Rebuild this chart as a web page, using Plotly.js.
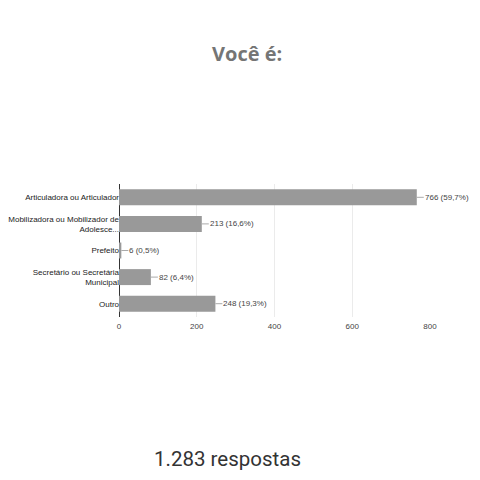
<!DOCTYPE html>
<html>
<head>
<meta charset="utf-8">
<script src="https://cdn.plot.ly/plotly-3.0.1.min.js"></script>
<style>html,body{margin:0;padding:0;background:#fff;}#chart{width:480px;height:480px;}</style>
</head>
<body>
<div id="chart"></div>
<script>
const categories = [
  "Articuladora ou Articulador",
  "Mobilizadora ou Mobilizador de<br>Adolesce...",
  "Prefeito",
  "Secretário ou Secretária<br>Municipal",
  "Outro"
];
const counts = [766, 213, 6, 82, 248];
const percents = ["59,7%", "16,6%", "0,5%", "6,4%", "19,3%"];
const xTicks = [0, 200, 400, 600, 800];
const chartTitle = "Você é:";
const totalLabel = "1.283 respostas";

const trace = {
  type: "bar",
  orientation: "h",
  x: counts,
  y: categories,
  marker: {color: "#999999"},
  hoverinfo: "none"
};

const annotations = counts.map((v, i) => ({
  x: v, y: categories[i], xref: "x", yref: "y",
  text: v + " (" + percents[i] + ")",
  showarrow: true, arrowhead: 0, arrowwidth: 1, arrowcolor: "#aaaaaa",
  ax: 7, ay: 0, standoff: 0, startstandoff: 0,
  xanchor: "left", borderpad: 0,
  font: {family: "Liberation Sans, Arial, sans-serif", size: 8, color: "#444444"}
}));
annotations.push({
  xref: "paper", yref: "paper", x: 0.35, y: -1.065,
  text: totalLabel, showarrow: false, xanchor: "center", yanchor: "middle",
  font: {family: "Roboto, sans-serif", size: 20.5, color: "#333333"}
});

const layout = {
  width: 480, height: 480,
  margin: {l: 119, r: 50, t: 184, b: 163},
  paper_bgcolor: "#ffffff", plot_bgcolor: "#ffffff",
  title: {
    text: "<b>" + chartTitle + "</b>",
    x: 0.515, xanchor: "center", y: 1 - 54/480, yanchor: "middle",
    font: {family: "Open Sans, sans-serif", size: 20, color: "#757575"}
  },
  bargap: 0.4,
  showlegend: false,
  xaxis: {
    range: [0, 800], tickvals: xTicks, ticktext: xTicks.map(String),
    showgrid: true, gridcolor: "#ebebeb", gridwidth: 1,
    zeroline: true, zerolinecolor: "#333333", zerolinewidth: 1,
    showline: false, ticks: "", ticklabelstandoff: 3,
    tickfont: {family: "Liberation Sans, Arial, sans-serif", size: 8, color: "#444444"},
    fixedrange: true
  },
  yaxis: {
    type: "category", categoryorder: "array", categoryarray: categories,
    autorange: "reversed", showgrid: false, zeroline: false, showline: false, ticks: "",
    ticklabelstandoff: -1,
    tickfont: {family: "Liberation Sans, Arial, sans-serif", size: 8, color: "#222222"},
    fixedrange: true
  },
  annotations: annotations
};

Plotly.newPlot("chart", [trace], layout, {displayModeBar: false, staticPlot: true});
</script>
</body>
</html>
